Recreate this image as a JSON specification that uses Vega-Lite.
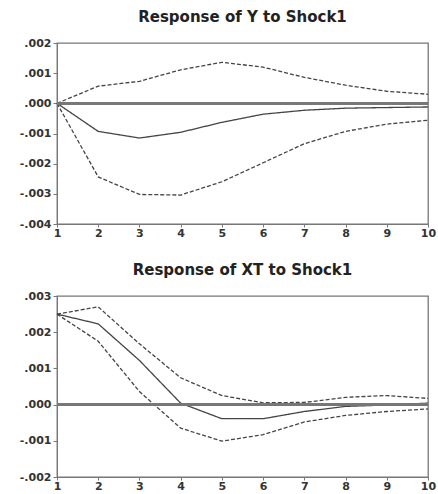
{
  "$schema": "https://vega.github.io/schema/vega-lite/v6.json",
  "background": "white",
  "padding": {"left": 18, "top": 9, "right": 8, "bottom": 0},
  "spacing": 23,
  "config": {
    "font": "DejaVu Sans",
    "view": {"stroke": "#777", "strokeWidth": 1.3},
    "title": {"font": "DejaVu Sans", "fontSize": 15, "fontWeight": "bold", "color": "#222", "offset": 12},
    "axis": {
      "grid": false, "labelFont": "DejaVu Sans", "labelFontSize": 11, "labelFontWeight": "bold", "labelColor": "#333",
      "domainColor": "#777", "tickColor": "#777", "tickSize": 4, "title": null, "labelPadding": 2, "labelOverlap": false
    },
    "axisX": {"tickSize": 3, "labelPadding": 0}
  },
  "data": {"values": [
    {"panel": "Y", "step": 1, "series": "irf", "value": 0},
    {"panel": "Y", "step": 2, "series": "irf", "value": -0.00093},
    {"panel": "Y", "step": 3, "series": "irf", "value": -0.00115},
    {"panel": "Y", "step": 4, "series": "irf", "value": -0.00096},
    {"panel": "Y", "step": 5, "series": "irf", "value": -0.00063},
    {"panel": "Y", "step": 6, "series": "irf", "value": -0.00036},
    {"panel": "Y", "step": 7, "series": "irf", "value": -0.00023},
    {"panel": "Y", "step": 8, "series": "irf", "value": -0.00016},
    {"panel": "Y", "step": 9, "series": "irf", "value": -0.00014},
    {"panel": "Y", "step": 10, "series": "irf", "value": -0.00012},
    {"panel": "Y", "step": 1, "series": "upper", "value": 0},
    {"panel": "Y", "step": 2, "series": "upper", "value": 0.00057},
    {"panel": "Y", "step": 3, "series": "upper", "value": 0.00073},
    {"panel": "Y", "step": 4, "series": "upper", "value": 0.00111},
    {"panel": "Y", "step": 5, "series": "upper", "value": 0.00136},
    {"panel": "Y", "step": 6, "series": "upper", "value": 0.0012},
    {"panel": "Y", "step": 7, "series": "upper", "value": 0.00086},
    {"panel": "Y", "step": 8, "series": "upper", "value": 0.0006},
    {"panel": "Y", "step": 9, "series": "upper", "value": 0.0004},
    {"panel": "Y", "step": 10, "series": "upper", "value": 0.0003},
    {"panel": "Y", "step": 1, "series": "lower", "value": 0},
    {"panel": "Y", "step": 2, "series": "lower", "value": -0.00244},
    {"panel": "Y", "step": 3, "series": "lower", "value": -0.00302},
    {"panel": "Y", "step": 4, "series": "lower", "value": -0.00304},
    {"panel": "Y", "step": 5, "series": "lower", "value": -0.0026},
    {"panel": "Y", "step": 6, "series": "lower", "value": -0.00197},
    {"panel": "Y", "step": 7, "series": "lower", "value": -0.00134},
    {"panel": "Y", "step": 8, "series": "lower", "value": -0.00093},
    {"panel": "Y", "step": 9, "series": "lower", "value": -0.00069},
    {"panel": "Y", "step": 10, "series": "lower", "value": -0.00056},
    {"panel": "XT", "step": 1, "series": "irf", "value": 0.0025},
    {"panel": "XT", "step": 2, "series": "irf", "value": 0.00223},
    {"panel": "XT", "step": 3, "series": "irf", "value": 0.00122},
    {"panel": "XT", "step": 4, "series": "irf", "value": 0.00004},
    {"panel": "XT", "step": 5, "series": "irf", "value": -0.00039},
    {"panel": "XT", "step": 6, "series": "irf", "value": -0.00039},
    {"panel": "XT", "step": 7, "series": "irf", "value": -0.00019},
    {"panel": "XT", "step": 8, "series": "irf", "value": -0.00005},
    {"panel": "XT", "step": 9, "series": "irf", "value": -0.00001},
    {"panel": "XT", "step": 10, "series": "irf", "value": 0.00004},
    {"panel": "XT", "step": 1, "series": "upper", "value": 0.0025},
    {"panel": "XT", "step": 2, "series": "upper", "value": 0.0027},
    {"panel": "XT", "step": 3, "series": "upper", "value": 0.00168},
    {"panel": "XT", "step": 4, "series": "upper", "value": 0.00074},
    {"panel": "XT", "step": 5, "series": "upper", "value": 0.00025},
    {"panel": "XT", "step": 6, "series": "upper", "value": 0.00005},
    {"panel": "XT", "step": 7, "series": "upper", "value": 0.00006},
    {"panel": "XT", "step": 8, "series": "upper", "value": 0.0002},
    {"panel": "XT", "step": 9, "series": "upper", "value": 0.00025},
    {"panel": "XT", "step": 10, "series": "upper", "value": 0.00017},
    {"panel": "XT", "step": 1, "series": "lower", "value": 0.0025},
    {"panel": "XT", "step": 2, "series": "lower", "value": 0.00175},
    {"panel": "XT", "step": 3, "series": "lower", "value": 0.00036},
    {"panel": "XT", "step": 4, "series": "lower", "value": -0.00065},
    {"panel": "XT", "step": 5, "series": "lower", "value": -0.00101},
    {"panel": "XT", "step": 6, "series": "lower", "value": -0.00083},
    {"panel": "XT", "step": 7, "series": "lower", "value": -0.00048},
    {"panel": "XT", "step": 8, "series": "lower", "value": -0.0003},
    {"panel": "XT", "step": 9, "series": "lower", "value": -0.00019},
    {"panel": "XT", "step": 10, "series": "lower", "value": -0.00012}
  ]},
  "vconcat": [
    {
      "title": "Response of Y to Shock1",
      "width": 371, "height": 181,
      "transform": [{"filter": "datum.panel === 'Y'"}],
      "layer": [
        {
          "mark": {"type": "line", "color": "#444", "strokeWidth": 1.3},
          "encoding": {
            "x": {"field": "step", "type": "quantitative", "scale": {"domain": [1, 10], "nice": false, "zero": false},
                  "axis": {"values": [1,2,3,4,5,6,7,8,9,10], "labelFlush": false, "format": "d"}},
            "y": {"field": "value", "type": "quantitative", "scale": {"domain": [-0.004, 0.002], "nice": false},
                  "axis": {"values": [-0.004,-0.003,-0.002,-0.001,0,0.001,0.002], "labelOverlap": false, "labelExpr": "replace(replace(format(datum.value, '.3f'), '\u2212', '-'), '0.', '.')"}},
            "strokeDash": {"field": "series", "type": "nominal", "legend": null,
                           "scale": {"domain": ["irf", "upper", "lower"], "range": [[1, 0], [4, 2], [4, 2]]}}
          }
        },
        {"mark": {"type": "rule", "color": "#777", "strokeWidth": 1.6},
         "encoding": {"y": {"datum": 0, "type": "quantitative", "scale": {"domain": [-0.004, 0.002], "nice": false},
                  "axis": {"values": [-0.004,-0.003,-0.002,-0.001,0,0.001,0.002], "labelOverlap": false, "labelExpr": "replace(replace(format(datum.value, '.3f'), '\u2212', '-'), '0.', '.')"}}}}
      ]
    },
    {
      "title": "Response of XT to Shock1",
      "width": 371, "height": 181,
      "transform": [{"filter": "datum.panel === 'XT'"}],
      "layer": [
        {
          "mark": {"type": "line", "color": "#444", "strokeWidth": 1.3},
          "encoding": {
            "x": {"field": "step", "type": "quantitative", "scale": {"domain": [1, 10], "nice": false, "zero": false},
                  "axis": {"values": [1,2,3,4,5,6,7,8,9,10], "labelFlush": false, "format": "d"}},
            "y": {"field": "value", "type": "quantitative", "scale": {"domain": [-0.002, 0.003], "nice": false},
                  "axis": {"values": [-0.002,-0.001,0,0.001,0.002,0.003], "labelOverlap": false, "labelExpr": "replace(replace(format(datum.value, '.3f'), '\u2212', '-'), '0.', '.')"}},
            "strokeDash": {"field": "series", "type": "nominal", "legend": null,
                           "scale": {"domain": ["irf", "upper", "lower"], "range": [[1, 0], [4, 2], [4, 2]]}}
          }
        },
        {"mark": {"type": "rule", "color": "#777", "strokeWidth": 1.6},
         "encoding": {"y": {"datum": 0, "type": "quantitative", "scale": {"domain": [-0.002, 0.003], "nice": false},
                  "axis": {"values": [-0.002,-0.001,0,0.001,0.002,0.003], "labelOverlap": false, "labelExpr": "replace(replace(format(datum.value, '.3f'), '\u2212', '-'), '0.', '.')"}}}}
      ]
    }
  ]
}
